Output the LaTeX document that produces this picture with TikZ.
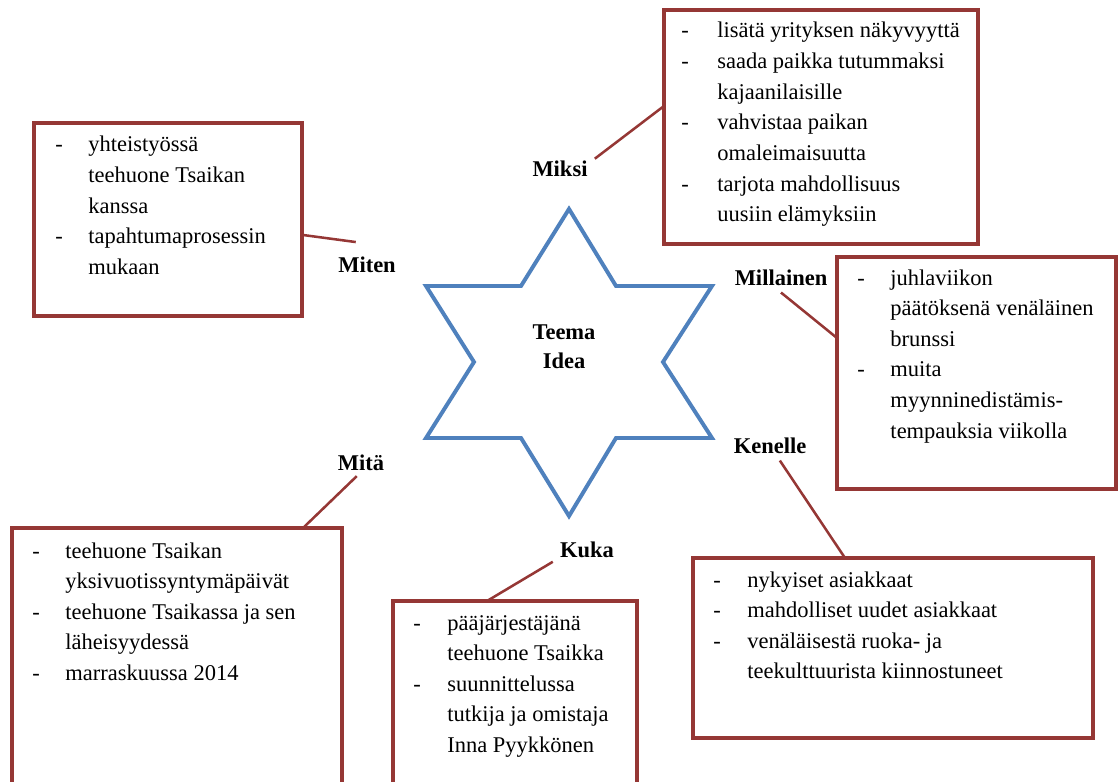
\documentclass[tikz,border=0pt]{standalone}
\usepackage{fontspec}
\setmainfont{Liberation Serif}
\usetikzlibrary{fit}

\definecolor{boxred}{RGB}{149,55,53}
\definecolor{starblue}{RGB}{79,129,189}

\begin{document}
\begin{tikzpicture}[x=0.025cm, y=-0.025cm,
    box/.style={draw=boxred, line width=2.2pt, inner sep=0pt},
    list/.style={anchor=base west, inner sep=0pt, font=\fontsize{16}{21.8}\selectfont},
    asklabel/.style={anchor=base, inner sep=1pt, font=\fontsize{16}{20}\selectfont\bfseries},
    link/.style={draw=boxred, line width=1.8pt}]
    \useasboundingbox (0,0) rectangle (1119,782);

    % star in the middle
    \draw[starblue, line width=2.8pt, line join=miter]
        (569,209) -- (616,286) -- (712,286) -- (663,362) -- (712,438) -- (616,438) --
        (569,516) -- (521,438) -- (426,438) -- (474,362) -- (426,286) -- (521,286) -- cycle;
    \node[align=center, inner sep=0pt, font=\fontsize{16}{20.6}\selectfont\bfseries] (theme) at (564,347) {Teema\\Idea};

    % boxes
    \node[box, fit={(664,10) (978,244)}] (miksibox) {};
    \node[box, fit={(34,123) (302,316)}] (mitenbox) {};
    \node[box, fit={(837,257) (1116,489)}] (millainenbox) {};
    \node[box, fit={(12,528) (342,800)}] (mitabox) {};
    \node[box, fit={(393,601) (637,800)}] (kukabox) {};
    \node[box, fit={(693,558) (1093,738)}] (kenellebox) {};

    % box texts
    \node[list] (miksitext) at (681,38) {\begin{tabular}[t]{@{}p{0.9cm}@{}l@{}}
        - & lisätä yrityksen näkyvyyttä\\
        - & saada paikka tutummaksi\\
          & kajaanilaisille\\
        - & vahvistaa paikan\\
          & omaleimaisuutta\\
        - & tarjota mahdollisuus\\
          & uusiin elämyksiin
        \end{tabular}};
    \node[list] (mitentext) at (55,152) {\begin{tabular}[t]{@{}p{0.83cm}@{}l@{}}
        - & yhteistyössä\\
          & teehuone Tsaikan\\
          & kanssa\\
        - & tapahtumaprosessin\\
          & mukaan
        \end{tabular}};
    \node[list] (millainentext) at (857,285) {\begin{tabular}[t]{@{}p{0.83cm}@{}l@{}}
        - & juhlaviikon\\
          & päätöksenä venäläinen\\
          & brunssi\\
        - & muita\\
          & myynninedistämis-\\
          & tempauksia viikolla
        \end{tabular}};
    \node[list] (mitatext) at (32,558) {\begin{tabular}[t]{@{}p{0.83cm}@{}l@{}}
        - & teehuone Tsaikan\\
          & yksivuotissyntymäpäivät\\
        - & teehuone Tsaikassa ja sen\\
          & läheisyydessä\\
        - & marraskuussa 2014
        \end{tabular}};
    \node[list] (kukatext) at (413,630) {\begin{tabular}[t]{@{}p{0.85cm}@{}l@{}}
        - & pääjärjestäjänä\\
          & teehuone Tsaikka\\
        - & suunnittelussa\\
          & tutkija ja omistaja\\
          & Inna Pyykkönen
        \end{tabular}};
    \node[list] (kenelletext) at (713,587) {\begin{tabular}[t]{@{}p{0.85cm}@{}l@{}}
        - & nykyiset asiakkaat\\
        - & mahdolliset uudet asiakkaat\\
        - & venäläisestä ruoka- ja\\
          & teekulttuurista kiinnostuneet
        \end{tabular}};

    % question words
    \node[asklabel] (miksi) at (560,176) {Miksi};
    \node[asklabel] (miten) at (367,272) {Miten};
    \node[asklabel] (millainen) at (781,285) {Millainen};
    \node[asklabel] (kenelle) at (770,453) {Kenelle};
    \node[asklabel] (mita) at (361,470) {Mitä};
    \node[asklabel] (kuka) at (587,557) {Kuka};

    % where the lines meet the boxes
    \coordinate (miksiin) at (664,106);
    \coordinate (mitenin) at (303,235);
    \coordinate (millainenin) at (837,338);
    \coordinate (kenellein) at (845,558);
    \coordinate (mitain) at (303,528);
    \coordinate (kukain) at (487,601);

    \draw[link] ([xshift=4pt]miksi.north east) -- (miksiin);
    \draw[link] ([xshift=-8pt,yshift=9pt]miten.north) -- (mitenin);
    \draw[link] ([yshift=-4pt]millainen.south) -- (millainenin);
    \draw[link] ([xshift=7pt,yshift=-4pt]kenelle.south) -- (kenellein);
    \draw[link] ([xshift=-3pt,yshift=-3pt]mita.south) -- (mitain);
    \draw[link] ([xshift=-4pt,yshift=-2pt]kuka.south west) -- (kukain);
\end{tikzpicture}
\end{document}
